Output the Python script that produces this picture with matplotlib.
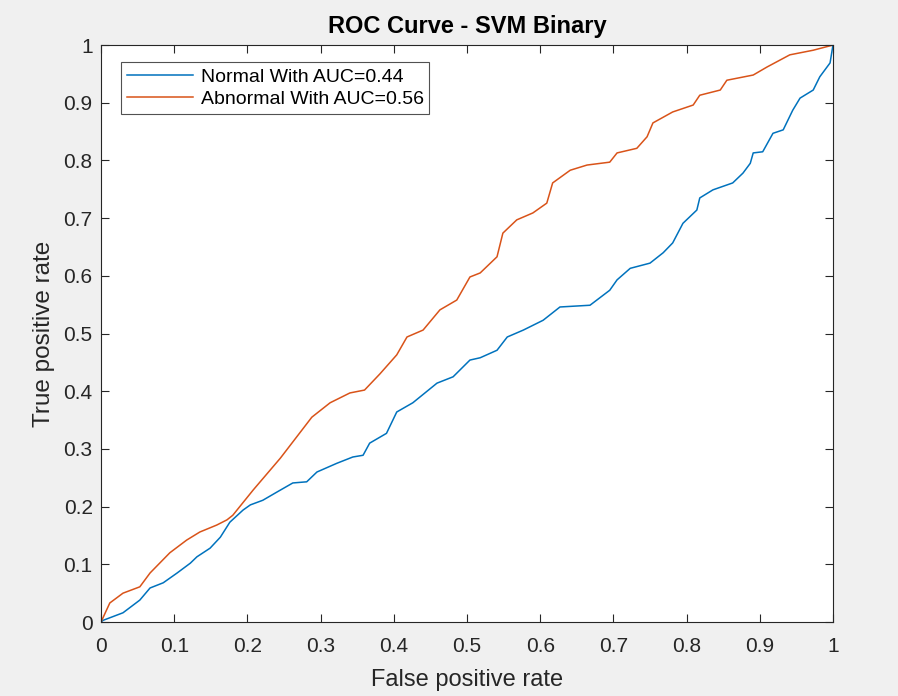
#!/usr/bin/env python3
"""ROC curve for the binary SVM, MATLAB-like look."""

import matplotlib
matplotlib.use("Agg")
import matplotlib.pyplot as plt
from matplotlib.ticker import FormatStrFormatter, MultipleLocator

# values
normal_fpr = [0.0, 0.003, 0.03, 0.053, 0.067, 0.085, 0.104, 0.122, 0.131, 0.149,
              0.163, 0.176, 0.194, 0.204, 0.221, 0.24, 0.262, 0.281, 0.295, 0.322,
              0.344, 0.358, 0.367, 0.39, 0.404, 0.426, 0.459, 0.481, 0.504, 0.518,
              0.541, 0.555, 0.577, 0.604, 0.627, 0.668, 0.695, 0.705, 0.723, 0.75,
              0.768, 0.781, 0.795, 0.814, 0.818, 0.836, 0.863, 0.877, 0.887, 0.891,
              0.904, 0.918, 0.932, 0.945, 0.955, 0.973, 0.982, 0.996, 1.0]
normal_tpr = [0.0, 0.003, 0.016, 0.038, 0.059, 0.068, 0.085, 0.102, 0.113, 0.128,
              0.147, 0.173, 0.194, 0.203, 0.211, 0.225, 0.241, 0.243, 0.26, 0.275,
              0.286, 0.289, 0.31, 0.327, 0.364, 0.38, 0.414, 0.425, 0.454, 0.458,
              0.471, 0.494, 0.506, 0.523, 0.546, 0.549, 0.575, 0.593, 0.613, 0.622,
              0.64, 0.657, 0.691, 0.714, 0.735, 0.749, 0.761, 0.778, 0.795, 0.813,
              0.815, 0.847, 0.853, 0.887, 0.908, 0.922, 0.945, 0.969, 1.0]

abnormal_fpr = [0.0, 0.012, 0.03, 0.053, 0.067, 0.094, 0.117, 0.135, 0.158, 0.172,
                0.18, 0.208, 0.245, 0.288, 0.313, 0.34, 0.36, 0.381, 0.404, 0.418,
                0.44, 0.463, 0.486, 0.504, 0.518, 0.541, 0.549, 0.568, 0.59, 0.609,
                0.617, 0.641, 0.664, 0.695, 0.705, 0.732, 0.746, 0.754, 0.781, 0.809,
                0.818, 0.846, 0.855, 0.891, 0.91, 0.941, 0.973, 1.0]
abnormal_tpr = [0.0, 0.033, 0.05, 0.061, 0.085, 0.12, 0.142, 0.156, 0.168, 0.177,
                0.185, 0.229, 0.284, 0.355, 0.38, 0.397, 0.402, 0.43, 0.463, 0.494,
                0.506, 0.541, 0.558, 0.598, 0.605, 0.633, 0.674, 0.697, 0.709, 0.726,
                0.761, 0.783, 0.792, 0.797, 0.813, 0.821, 0.841, 0.865, 0.884, 0.896,
                0.913, 0.922, 0.939, 0.948, 0.962, 0.983, 0.991, 1.0]

labels = ["Normal With AUC=0.44", "Abnormal With AUC=0.56"]

plt.rcParams["font.family"] = ["Liberation Sans", "DejaVu Sans"]

fig = plt.figure(figsize=(8.98, 6.96), dpi=100, facecolor="#f0f0f0")
ax = fig.add_axes([0.1125, 0.1063, 0.8151, 0.8290])
ax.set_facecolor("white")

ax.plot(normal_fpr, normal_tpr, color="#0072BD", lw=1.1, label=labels[0])
ax.plot(abnormal_fpr, abnormal_tpr, color="#D95319", lw=1.1, label=labels[1])

ax.set_xlim(0, 1)
ax.set_ylim(0, 1)
ax.xaxis.set_major_locator(MultipleLocator(0.1))
ax.yaxis.set_major_locator(MultipleLocator(0.1))
ax.xaxis.set_major_formatter(FormatStrFormatter("%g"))
ax.yaxis.set_major_formatter(FormatStrFormatter("%g"))
ax.tick_params(direction="in", length=6, width=0.8, top=True, right=True,
               labelsize=15, colors="#262626")
ax.tick_params(axis="x", pad=11)
ax.tick_params(axis="y", pad=6)
for sp in ax.spines.values():
    sp.set_color("#262626")
    sp.set_linewidth(0.8)

ax.set_xlabel("False positive rate", fontsize=17, color="#262626", labelpad=9)
ax.set_ylabel("True positive rate", fontsize=17.5, color="#262626", labelpad=6)
ax.set_title("ROC Curve - SVM Binary", fontsize=17, fontweight="bold", pad=9)

leg = ax.legend(loc="upper left", bbox_to_anchor=(0.027, 0.97), fontsize=14,
                frameon=True, fancybox=False, handlelength=3.4, borderpad=0.3,
                labelspacing=0.25, handletextpad=0.4, borderaxespad=0)
leg.get_frame().set_edgecolor("#262626")
leg.get_frame().set_linewidth(0.8)

fig.savefig("out.png", dpi=100, facecolor=fig.get_facecolor())
